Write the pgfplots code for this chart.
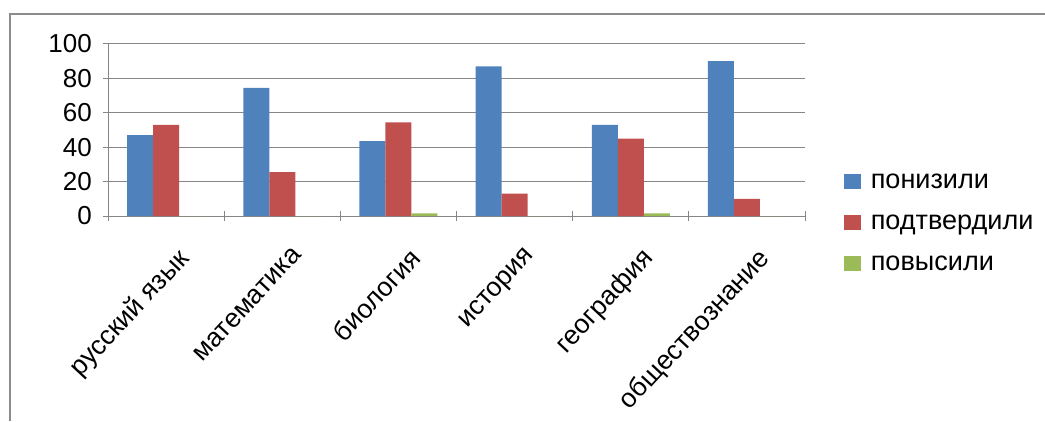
\documentclass[border=0pt]{standalone}
\usepackage{fontspec}
\setmainfont{Liberation Sans}
\usepackage{pgfplots}
\pgfplotsset{compat=1.18}

\definecolor{cBlue}{HTML}{4F81BD}
\definecolor{cRed}{HTML}{C0504D}
\definecolor{cGreen}{HTML}{9BBB59}
\definecolor{cGrid}{HTML}{868686}
\definecolor{cFrame}{HTML}{8C8C8C}

\begin{document}
\begin{tikzpicture}
% 1 px of the reference = 0.75pt
\path[use as bounding box] (0,0) rectangle (783.75pt,315.75pt);
\draw[cFrame, line width=1.1pt] (7.5pt,0) -- (7.5pt,305.25pt) -- (783.75pt,305.25pt);
\begin{axis}[
    at={(81pt,153.75pt)}, anchor=south west,
    scale only axis,
    width=522.75pt, height=129pt,
    ybar=0pt, bar width=19.5pt,
    xmin=-0.5, xmax=5.5,
    ymin=0, ymax=100,
    ytick={0,20,...,100},
    xtick={0,...,5},
    xticklabels={русский язык, математика, биология, история, география, обществознание},
    minor xtick={-0.5,0.5,...,5.5},
    major x tick style={draw=none},
    tick align=outside,
    major tick length=7.5pt, minor tick length=7.5pt,
    every tick/.style={cGrid, line width=0.75pt},
    axis x line=bottom, axis y line=left,
    axis line style={-, cGrid, line width=0.75pt},
    ymajorgrids,
    major grid style={cGrid, line width=0.75pt},
    /pgf/number format/assume math mode=true,
    yticklabel style={font=\fontsize{19.5}{23}\selectfont, inner sep=0pt, xshift=-8.25pt},
    xticklabel style={font=\fontsize{20}{24}\selectfont, rotate=47, anchor=north east,
        inner sep=0pt, xshift=-8.75pt, yshift=-18pt},
    legend style={at={(1.050,0.285)}, anchor=north west, draw=none, fill=none,
        font=\fontsize{20.3}{24}\selectfont, row sep=12.75pt,
        nodes={inner sep=0pt, text height=14pt, text depth=4pt}},
    legend cell align=left,
    /tikz/every even column/.append style={column sep=0pt},
    legend image code/.code={\fill[#1] (0pt,-5.6pt) rectangle (12.75pt,5.6pt); \path (20pt,0);},
]
\addplot[fill=cBlue, draw=none] coordinates {(0,47) (1,74.5) (2,43.5) (3,87) (4,53) (5,90)};
\addplot[fill=cRed, draw=none] coordinates {(0,53) (1,25.5) (2,54.5) (3,13) (4,45) (5,10)};
\addplot[fill=cGreen, draw=none] coordinates {(0,0) (1,0) (2,1.5) (3,0) (4,1.5) (5,0)};
\legend{понизили, подтвердили, повысили}
\end{axis}
\end{tikzpicture}
\end{document}
